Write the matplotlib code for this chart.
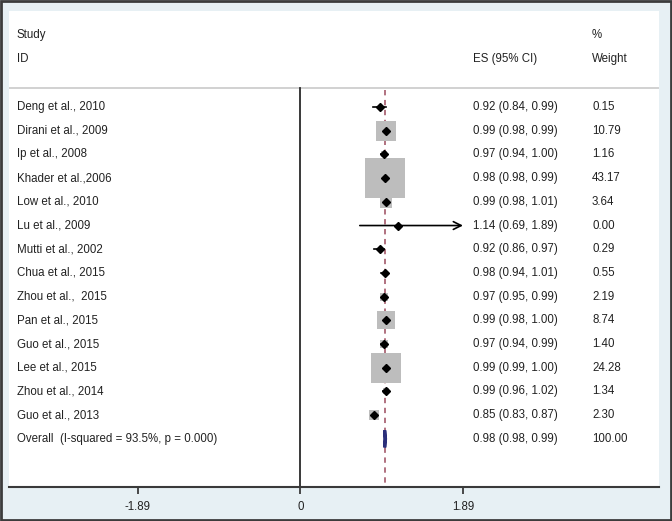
import matplotlib.pyplot as plt
from matplotlib.patches import Rectangle, Polygon

plt.rcParams['font.family'] = ['Liberation Sans', 'DejaVu Sans']

studies = ['Deng et al., 2010', 'Dirani et al., 2009', 'Ip et al., 2008', 'Khader et al.,2006',
           'Low et al., 2010', 'Lu et al., 2009', 'Mutti et al., 2002', 'Chua et al., 2015',
           'Zhou et al.,  2015', 'Pan et al., 2015', 'Guo et al., 2015', 'Lee et al., 2015',
           'Zhou et al., 2014', 'Guo et al., 2013']
es = [0.92, 0.99, 0.97, 0.98, 0.99, 1.14, 0.92, 0.98, 0.97, 0.99, 0.97, 0.99, 0.99, 0.85]
lo = [0.84, 0.98, 0.94, 0.98, 0.98, 0.69, 0.86, 0.94, 0.95, 0.98, 0.94, 0.99, 0.96, 0.83]
hi = [0.99, 0.99, 1.00, 0.99, 1.01, 1.89, 0.97, 1.01, 0.99, 1.00, 0.99, 1.00, 1.02, 0.87]
weight = [0.15, 10.79, 1.16, 43.17, 3.64, 0.00, 0.29, 0.55, 2.19, 8.74, 1.40, 24.28, 1.34, 2.30]

overall_label = 'Overall  (I-squared = 93.5%, p = 0.000)'
overall_es, overall_lo, overall_hi, overall_w = 0.98, 0.98, 0.99, 100.00

xticks = [-1.89, 0, 1.89]
xclip = 1.89

txt = '#222222'
fs = 8.3

fig = plt.figure(figsize=(6.72, 5.21), dpi=100)
fig.patch.set_facecolor('#e7f0f4')
fig.patches.append(Rectangle((0.0015, 0.002), 0.997, 0.996, transform=fig.transFigure,
                             fill=False, edgecolor='#3c3c3c', linewidth=2.0))

ax = fig.add_axes([9 / 672, 1 - 487 / 521, 650 / 672, 476 / 521])
ax.set_facecolor('white')
ax.set_xlim(-3.39, 4.17)
ax.set_ylim(16.03, -4.05)

for s in ['top', 'left', 'right']:
    ax.spines[s].set_visible(False)
ax.spines['bottom'].set_color('#3a3a3a')
ax.spines['bottom'].set_linewidth(1.5)
ax.set_yticks([])
ax.set_xticks(xticks)
ax.set_xticklabels(['%g' % t if t != 0 else '0' for t in xticks], fontsize=fs, color=txt)
ax.tick_params(axis='x', length=5, width=1.3, color='#3a3a3a', pad=5)

ytr = ax.get_yaxis_transform()

# header
ax.text(0.0123, -3.04, 'Study', transform=ytr, fontsize=fs, color=txt, va='center')
ax.text(0.0123, -2.03, 'ID', transform=ytr, fontsize=fs, color=txt, va='center')
ax.text(0.714, -2.03, 'ES (95% CI)', transform=ytr, fontsize=fs, color=txt, va='center')
ax.text(0.897, -3.04, '%', transform=ytr, fontsize=fs, color=txt, va='center')
ax.text(0.897, -2.03, 'Weight', transform=ytr, fontsize=fs, color=txt, va='center')
ax.axhline(-0.8, color='#c9c9c9', linewidth=1.2)

# null line and overall line
n = len(studies)
ax.plot([0, 0], [-0.8, 16.03], color='#2a2a2a', linewidth=1.3, clip_on=False)
ax.plot([overall_es + 0.005] * 2, [-0.72, 16.03], color='#9b4a5c', linewidth=1.1,
        linestyle=(0, (3.5, 3)))

for i in range(n):
    if weight[i] > 0:
        ax.scatter(es[i], i, s=18.3 * weight[i], marker='s', color='#bdbdbd', linewidths=0, zorder=2)
    if hi[i] >= xclip:
        ax.annotate('', xy=(hi[i], i), xytext=(lo[i], i),
                    arrowprops=dict(arrowstyle='->', color='black', lw=1.2,
                                    shrinkA=0, shrinkB=0, mutation_scale=14), zorder=3)
    else:
        ax.plot([lo[i], hi[i]], [i, i], color='black', linewidth=1.2, zorder=3)
    ax.plot(es[i], i, marker='D', markersize=3.8, color='black', zorder=4)
    ax.text(0.0123, i, studies[i], transform=ytr, fontsize=fs, color=txt, va='center')
    ax.text(0.714, i, '%.2f (%.2f, %.2f)' % (es[i], lo[i], hi[i]), transform=ytr,
            fontsize=fs, color=txt, va='center')
    ax.text(0.897, i, '%.2f' % weight[i], transform=ytr, fontsize=fs, color=txt, va='center')

# overall diamond
yo = n
ax.add_patch(Polygon([[overall_lo, yo], [overall_es, yo - 0.36], [overall_hi, yo], [overall_es, yo + 0.36]],
                     closed=True, facecolor='#2b2f7a', edgecolor='#2b2f7a', linewidth=2.2, zorder=4))
ax.text(0.0123, yo, overall_label, transform=ytr, fontsize=fs, color=txt, va='center')
ax.text(0.714, yo, '%.2f (%.2f, %.2f)' % (overall_es, overall_lo, overall_hi), transform=ytr,
        fontsize=fs, color=txt, va='center')
ax.text(0.897, yo, '%.2f' % overall_w, transform=ytr, fontsize=fs, color=txt, va='center')

fig.savefig('out.png', dpi=100, facecolor=fig.get_facecolor())
